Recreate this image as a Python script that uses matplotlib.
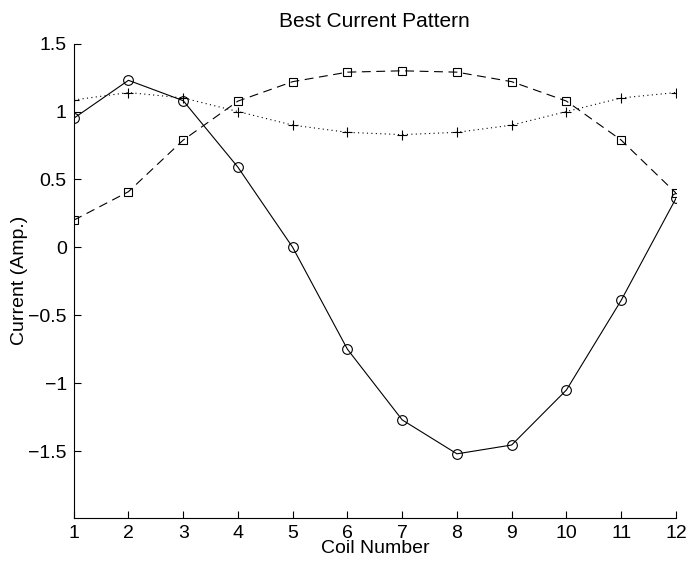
import matplotlib
matplotlib.use("Agg")
import matplotlib.pyplot as plt

plt.rcParams['font.family'] = ['Liberation Sans', 'DejaVu Sans']

coils = list(range(1, 13))
circle_vals = [0.95, 1.23, 1.08, 0.59, 0.0, -0.75, -1.27, -1.52, -1.455, -1.05, -0.39, 0.36]
square_vals = [0.20, 0.41, 0.79, 1.077, 1.22, 1.29, 1.30, 1.29, 1.22, 1.077, 0.79, 0.40]
plus_vals = [1.085, 1.14, 1.10, 1.0, 0.90, 0.847, 0.83, 0.847, 0.90, 1.0, 1.10, 1.14]

fig = plt.figure(figsize=(6.89, 5.63), dpi=100)
ax = fig.add_axes([0.107, 0.0805, 0.874, 0.842])

ax.plot(coils, circle_vals, color='black', linestyle='-', linewidth=0.8,
        marker='o', markersize=7, markerfacecolor='none', markeredgewidth=0.8)
ax.plot(coils, square_vals, color='black', linestyle=(0, (8, 5)), linewidth=0.8,
        marker='s', markersize=5.5, markerfacecolor='none', markeredgewidth=0.8)
ax.plot(coils, plus_vals, color='black', linestyle=(0, (1, 3)), linewidth=0.8,
        marker='+', markersize=7, markeredgewidth=0.8)

ax.set_xlim(1, 12)
ax.set_ylim(-1.99, 1.5)
ax.set_xticks(coils)
ax.set_yticks([-1.5, -1, -0.5, 0, 0.5, 1, 1.5])
ax.set_yticklabels(['\u22121.5', '\u22121', '\u22120.5', '0', '0.5', '1', '1.5'])

for s in ['top', 'right']:
    ax.spines[s].set_visible(False)
ax.spines['left'].set_linewidth(0.8)
ax.spines['bottom'].set_linewidth(0.8)
ax.tick_params(direction='in', length=5, width=0.8, labelsize=14, pad=5)

ax.set_title('Best Current Pattern', fontsize=15, pad=12)
ax.set_xlabel('Coil Number', fontsize=14, labelpad=-1)
ax.set_ylabel('Current (Amp.)', fontsize=14, labelpad=0)

fig.savefig('out.png', dpi=100)
